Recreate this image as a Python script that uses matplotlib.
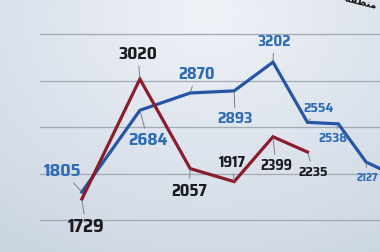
import matplotlib
matplotlib.use("Agg")
import matplotlib.pyplot as plt
import numpy as np

# monthly counts
blue_x = [0, 1, 2, 3, 4, 5, 6, 7, 8]
blue_values = [1805, 2684, 2870, 2893, 3202, 2554, 2538, 2127, 2000]
red_x = [0, 1, 2, 3, 4, 5]
red_values = [1729, 3020, 2057, 1917, 2399, 2235]
grid_values = [1500, 2000, 2500, 3000, 3500]
# caption fragment at top right (visual order, presentation forms)
caption = "\uFEEA\uFED4\uFEC4\uFEE8\uFEE3 \u06F1\u06F3 \uFEEA\uFE91 \uFB8F\uFBFF\uFB91\uFED4\uFE97"

# label placement (pixels from point) and font sizes
blue_offsets = [(-19, 21), (8, -30), (6, 19), (1, -28), (1, 20), (11, 14), (-5, -15), (1, -15)]
blue_sizes = [13, 12.5, 12, 11.5, 11, 10, 9.5, 8]
red_offsets = [(4, -28), (-2, 25), (-1, -22), (-2, 19), (3, -29), (6, -20)]
red_sizes = [13.5, 12.5, 12, 11, 10.5, 10]

blue = "#2455a6"
blue_text = "#2f6cb8"
red = "#8a1c2c"
lead = "#7b818b"
font = ["Saira SemiCondensed", "DejaVu Sans"]

c = 0.077  # squeeze of the x axis towards the right (photo perspective)


def fwd(x):
    return x / (1 + c * x)


def inv(t):
    return t / (1 - c * t)


fig = plt.figure(figsize=(3.8, 2.52), dpi=100)

# screen background
bg = fig.add_axes([0, 0, 1, 1], zorder=0)
yy, xx = np.mgrid[0:1:120j, 0:1:180j]
d = np.sqrt(((xx - 0.55) / 0.9) ** 2 + ((yy - 0.05) / 1.1) ** 2)
c0 = np.array([0.94, 0.95, 0.97])
c1 = np.array([0.80, 0.84, 0.89])
img = c0 + (c1 - c0) * np.clip(d, 0, 1)[..., None]
bg.imshow(img, aspect="auto", extent=[0, 1, 0, 1], origin="upper")
bg.axis("off")

ax = fig.add_axes([0, 0, 1, 1], zorder=1)
ax.patch.set_alpha(0)
ax.set_xscale("function", functions=(fwd, inv))
ax.set_xlim(-1.19, 7.54)
ax.set_ylim(1160, 3870)

for g in grid_values:
    ax.axhline(g, xmin=0.105, xmax=1, color="#a3a9b2", lw=0.9, zorder=1)

ax.plot(blue_x, blue_values, color=blue, lw=2.3, solid_joinstyle="miter", zorder=3)
ax.plot(red_x, red_values, color=red, lw=2.3, solid_joinstyle="miter", zorder=4)

for x, v, off, fs in zip(blue_x, blue_values, blue_offsets, blue_sizes):
    ax.annotate(str(v), xy=(x, v), xytext=off, textcoords="offset pixels",
                ha="center", va="center", fontsize=fs, fontweight="bold",
                family=font, color=blue_text, zorder=5,
                arrowprops=dict(arrowstyle="-", color=lead, lw=0.7,
                                shrinkA=1, shrinkB=1))

for x, v, off, fs in zip(red_x, red_values, red_offsets, red_sizes):
    ax.annotate(str(v), xy=(x, v), xytext=off, textcoords="offset pixels",
                ha="center", va="center", fontsize=fs, fontweight="bold",
                family=font, color="#1b1b1f", zorder=5,
                arrowprops=dict(arrowstyle="-", color=lead, lw=0.7,
                                shrinkA=1, shrinkB=1))

fig.text(0.905, 0.965, caption, ha="left", va="center", rotation=-14,
         fontsize=7, fontweight="bold", color="#151515", family="DejaVu Sans")

ax.set_xticks([])
ax.set_yticks([])
for s in ax.spines.values():
    s.set_visible(False)

fig.savefig("out.png", dpi=100)
